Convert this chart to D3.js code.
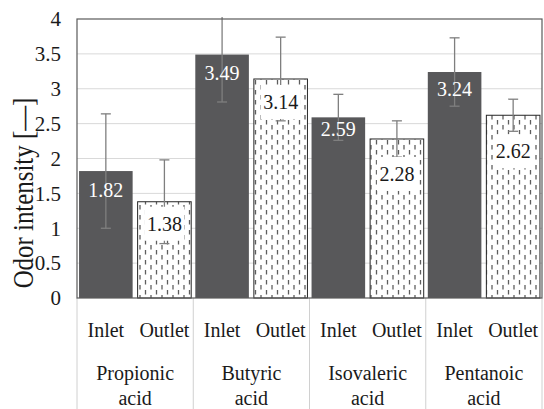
<!DOCTYPE html>
<html>
<head>
<meta charset="utf-8">
<script src="https://cdn.jsdelivr.net/npm/d3@7"></script>
<style>
  body { margin: 0; background: #fff; }
  svg { display: block; }
</style>
</head>
<body>
<svg id="chart"></svg>
<script>
// chart data
var acids = ["Propionic acid", "Butyric acid", "Isovaleric acid", "Pentanoic acid"];
var sites = ["Inlet", "Outlet"];
var inletValues = [1.82, 3.49, 2.59, 3.24];
var outletValues = [1.38, 3.14, 2.28, 2.62];
var inletErrors = [0.82, 0.68, 0.33, 0.49];
var outletErrors = [0.60, 0.60, 0.26, 0.23];
var yTicks = [0, 0.5, 1, 1.5, 2, 2.5, 3, 3.5, 4];
var yTickLabels = ["0", "0.5", "1", "1.5", "2", "2.5", "3", "3.5", "4"];
var yTitle = "Odor intensity [\u2014]";

// hand placed data labels (px below the bar top)
var inletLabelDy = [19, 18, 12, 17];
var outletLabelDy = [22, 23, 35, 36];

var width = 544;
var height = 409;
var plotLeft = 77, plotRight = 542, plotTop = 19, plotBottom = 298;
var FONT = "'Liberation Serif'";

var svg = d3.select("#chart")
  .attr("width", width)
  .attr("height", height);

var defs = svg.append("defs");

// dashed vertical fill for the outlet bars
var pat = defs.append("pattern")
  .attr("id", "dashVert")
  .attr("patternUnits", "userSpaceOnUse")
  .attr("width", 11)
  .attr("height", 10);
pat.append("rect").attr("width", 11).attr("height", 10).attr("fill", "#fff");
pat.append("line").attr("x1", 2.5).attr("x2", 2.5).attr("y1", 0).attr("y2", 4.5)
  .attr("stroke", "#5e5e5e").attr("stroke-width", 1.3);
pat.append("line").attr("x1", 8).attr("x2", 8).attr("y1", 5).attr("y2", 9.5)
  .attr("stroke", "#5e5e5e").attr("stroke-width", 1.3);

defs.append("clipPath").attr("id", "plotClip")
  .append("rect")
  .attr("x", plotLeft - 5).attr("y", plotTop - 2)
  .attr("width", plotRight - plotLeft + 10).attr("height", plotBottom - plotTop + 2);

var xScale = d3.scaleBand().domain(acids).range([plotLeft, plotRight]).padding(0);
var siteScale = d3.scaleBand().domain(sites).range([0, xScale.bandwidth()])
  .paddingInner(0.085).paddingOuter(0.035);
var yScale = d3.scaleLinear().domain([0, 4]).range([plotBottom, plotTop]);

// gridlines
svg.append("g")
  .selectAll("line")
  .data(yTicks.slice(1, -1))
  .enter()
  .append("line")
  .attr("x1", plotLeft).attr("x2", plotRight)
  .attr("y1", function(d) { return yScale(d); })
  .attr("y2", function(d) { return yScale(d); })
  .attr("stroke", "#d9d9d9")
  .attr("stroke-width", 1);

// category dividers under the axis
svg.append("g")
  .selectAll("line")
  .data(acids.concat(["end"]))
  .enter()
  .append("line")
  .attr("x1", function(d, i) { return i < acids.length ? xScale(d) : plotRight; })
  .attr("x2", function(d, i) { return i < acids.length ? xScale(d) : plotRight; })
  .attr("y1", plotBottom)
  .attr("y2", height)
  .attr("stroke", "#d0d0d0")
  .attr("stroke-width", 1);

// one row per bar
var rows = [];
acids.forEach(function(a, i) {
  rows.push({ acid: a, site: "Inlet", value: inletValues[i], err: inletErrors[i], dy: inletLabelDy[i] });
  rows.push({ acid: a, site: "Outlet", value: outletValues[i], err: outletErrors[i], dy: outletLabelDy[i] });
});

function barX(d) { return xScale(d.acid) + siteScale(d.site); }
function barMid(d) { return barX(d) + siteScale.bandwidth() / 2; }

var bars = svg.append("g").attr("id", "bars");
bars.selectAll("rect")
  .data(rows)
  .enter()
  .append("rect")
  .attr("class", "bar")
  .attr("x", barX)
  .attr("y", function(d) { return yScale(d.value); })
  .attr("width", siteScale.bandwidth())
  .attr("height", function(d) { return plotBottom - yScale(d.value); })
  .attr("fill", function(d) { return d.site == "Inlet" ? "#58585a" : "url(#dashVert)"; })
  .attr("stroke", function(d) { return d.site == "Inlet" ? "none" : "#262626"; })
  .attr("stroke-width", 1);

// error bars
var errs = svg.append("g").attr("clip-path", "url(#plotClip)")
  .selectAll("g")
  .data(rows)
  .enter()
  .append("g")
  .attr("stroke", "#7f7f7f")
  .attr("stroke-width", 1.3);
errs.append("line")
  .attr("x1", barMid).attr("x2", barMid)
  .attr("y1", function(d) { return yScale(d.value + d.err); })
  .attr("y2", function(d) { return yScale(d.value - d.err); });
errs.append("line")
  .attr("x1", function(d) { return barMid(d) - 5; })
  .attr("x2", function(d) { return barMid(d) + 5; })
  .attr("y1", function(d) { return yScale(d.value + d.err); })
  .attr("y2", function(d) { return yScale(d.value + d.err); });
errs.append("line")
  .attr("x1", function(d) { return barMid(d) - 5; })
  .attr("x2", function(d) { return barMid(d) + 5; })
  .attr("y1", function(d) { return yScale(d.value - d.err); })
  .attr("y2", function(d) { return yScale(d.value - d.err); });

// data labels
var labels = svg.append("g").selectAll("g")
  .data(rows)
  .enter()
  .append("g")
  .attr("transform", function(d) {
    return "translate(" + barMid(d) + "," + (yScale(d.value) + d.dy) + ")";
  });
labels.filter(function(d) { return d.site == "Outlet"; })
  .append("rect")
  .attr("x", -20).attr("y", -17)
  .attr("width", 40).attr("height", 34)
  .attr("fill", "#fff");
labels.append("text")
  .style("font-family", FONT)
  .attr("text-anchor", "middle")
  .attr("dy", "0.35em")
  .attr("font-size", 20)
  .attr("fill", function(d) { return d.site == "Inlet" ? "#fff" : "#1a1a1a"; })
  .text(function(d) { return d.value.toFixed(2); });

// plot frame
svg.append("rect")
  .attr("x", plotLeft).attr("y", plotTop)
  .attr("width", plotRight - plotLeft).attr("height", plotBottom - plotTop)
  .attr("fill", "none")
  .attr("stroke", "#5a5a5a")
  .attr("stroke-width", 1.2);

// y axis labels
svg.append("g")
  .selectAll("text")
  .data(yTicks)
  .enter()
  .append("text")
  .style("font-family", FONT)
  .attr("x", 61)
  .attr("y", function(d) { return yScale(d); })
  .attr("dy", "0.35em")
  .attr("text-anchor", "end")
  .attr("font-size", 21)
  .attr("fill", "#1a1a1a")
  .text(function(d, i) { return yTickLabels[i]; });

svg.append("text")
  .style("font-family", FONT)
  .attr("transform", "translate(32.5,193) rotate(-90) scale(0.83,1)")
  .attr("text-anchor", "middle")
  .attr("font-size", 30)
  .attr("fill", "#1a1a1a")
  .text(yTitle);

// x axis labels: site row, then acid names on two lines
svg.append("g")
  .selectAll("text")
  .data(rows)
  .enter()
  .append("text")
  .style("font-family", FONT)
  .attr("x", barMid)
  .attr("y", 337)
  .attr("text-anchor", "middle")
  .attr("font-size", 20)
  .attr("fill", "#1a1a1a")
  .text(function(d) { return d.site; });

var acidText = svg.append("g")
  .selectAll("text")
  .data(acids)
  .enter()
  .append("text")
  .style("font-family", FONT)
  .attr("text-anchor", "middle")
  .attr("font-size", 20)
  .attr("fill", "#1a1a1a");
acidText.selectAll("tspan")
  .data(function(d) {
    var x = xScale(d) + xScale.bandwidth() / 2;
    return d.split(" ").map(function(w) { return { x: x, w: w }; });
  })
  .enter()
  .append("tspan")
  .attr("x", function(t) { return t.x; })
  .attr("y", function(t, i) { return 380 + i * 24.5; })
  .text(function(t) { return t.w; });
</script>
</body>
</html>
